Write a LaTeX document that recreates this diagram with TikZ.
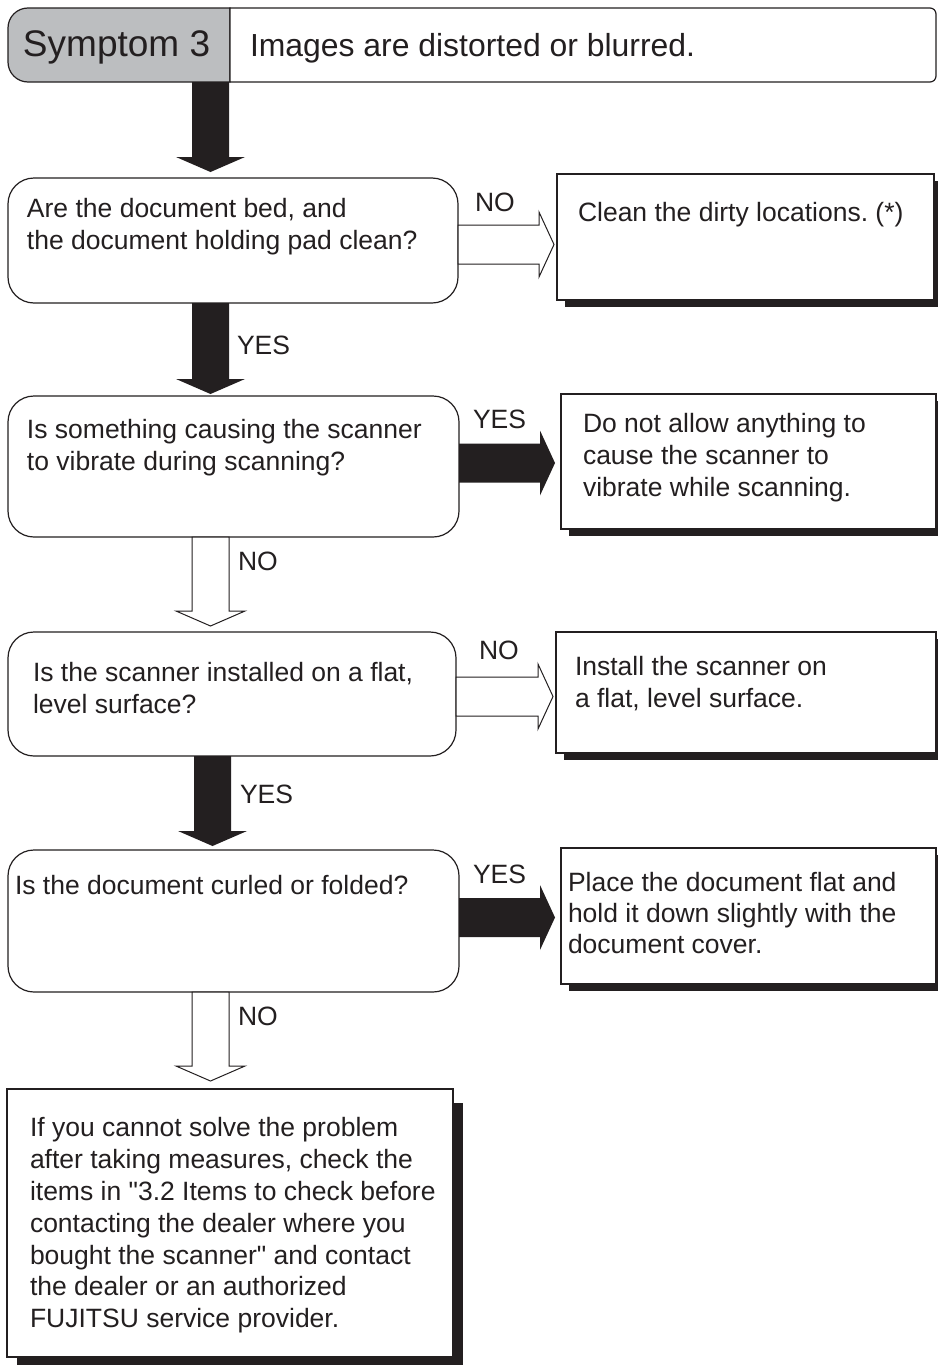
\documentclass[tikz,border=0pt]{standalone}
\usepackage{fontspec}
\setmainfont{Liberation Sans}[Ligatures=TeXOff]
\usetikzlibrary{calc,shadows,backgrounds}
\definecolor{ink}{HTML}{231F20}
\definecolor{hgray}{HTML}{BCBEC0}
\frenchspacing
\tikzset{
  boxframe/.style={draw=ink, line width=1.2pt, fill=white, inner sep=0pt, outer sep=0pt},
  qbox/.style={boxframe, rounded corners=26pt},
  abox/.style={boxframe, drop shadow={opacity=1, shadow xshift=8pt, shadow yshift=-7pt, fill=ink}},
  fbox/.style={boxframe, drop shadow={opacity=1, shadow xshift=10pt, shadow yshift=-14pt, fill=ink}},
  hdrbox/.style={draw=none, inner sep=0pt, outer sep=0pt, minimum height=74pt},
  hdrline/.style={draw=ink, line width=1.2pt},
  txt/.style={inner sep=0pt, outer sep=0pt, align=left, anchor=north west, text=ink, font=\fontsize{26.5}{32}\selectfont},
  lbl/.style={inner sep=0pt, outer sep=0pt, anchor=base west, text=ink, font=\fontsize{26.5}{32}\selectfont},
  blackarrow/.style={fill=ink},
  whitearrow/.style={draw=ink, line width=1pt, fill=white, line join=miter},
}
\newcommand\vArrow[3]{%
  \path[#1] ($(#2)+(-18.5pt,0)$) -- ($(#2)+(18.5pt,0)$) -- ($(#3)+(18.5pt,15pt)$) -- ($(#3)+(34.5pt,15pt)$) -- (#3) -- ($(#3)+(-34.5pt,15pt)$) -- ($(#3)+(-18.5pt,15pt)$) -- cycle;}
\newcommand\hArrow[3]{%
  \path[#1] ($(#2)+(0,19.5pt)$) -- ($(#3)+(-15pt,19.5pt)$) -- ($(#3)+(-15pt,32.5pt)$) -- (#3) -- ($(#3)+(-15pt,-32.5pt)$) -- ($(#3)+(-15pt,-19.5pt)$) -- ($(#2)+(0,-19.5pt)$) -- cycle;}
\begin{document}
\begin{tikzpicture}[x=1pt,y=-1pt]
\useasboundingbox (0,0) rectangle (937,1365);
\fill[white] (0,0) rectangle (937,1365);

% header
\node[hdrbox, minimum width=222pt] (hdrL) at (119,45) {};
\node[hdrbox, minimum width=706pt] (hdrR) at (583,45) {};
\draw[hdrline, fill=hgray] (hdrL.north east) -- ($(hdrL.north west)+(20pt,0)$) arc[start angle=90, end angle=180, radius=20pt] -- ($(hdrL.south west)+(0,20pt)$) arc[start angle=180, end angle=270, radius=20pt] -- (hdrL.south east) -- cycle;
\draw[hdrline, fill=white] (hdrR.north west) -- ($(hdrR.north east)+(-6pt,0)$) arc[start angle=90, end angle=0, radius=6pt] -- ($(hdrR.south east)+(0,6pt)$) arc[start angle=0, end angle=-90, radius=6pt] -- (hdrR.south west) -- cycle;
\node[lbl, font=\fontsize{37}{42}\selectfont] (sym) at (23,56.5) {Symptom 3};
\node[lbl, font=\fontsize{31.9}{36}\selectfont] (title) at (250,56) {Images are distorted or blurred.};

% question boxes
\node[qbox, minimum width=450pt, minimum height=125pt] (q1) at (233,240.5) {};
\node[qbox, minimum width=451pt, minimum height=141pt] (q2) at (233.5,466.5) {};
\node[qbox, minimum width=448pt, minimum height=124pt] (q3) at (232,694) {};
\node[qbox, minimum width=451pt, minimum height=142pt] (q4) at (233.5,921) {};

% answer boxes
\node[abox, minimum width=377pt, minimum height=126pt] (a1) at (745.5,237) {};
\node[abox, minimum width=375pt, minimum height=135pt] (a2) at (748.5,461.5) {};
\node[abox, minimum width=380pt, minimum height=121pt] (a3) at (746,692.5) {};
\node[abox, minimum width=375pt, minimum height=136pt] (a4) at (748.5,916) {};
\node[fbox, minimum width=446pt, minimum height=268pt] (fin) at (230,1223) {};

% texts
\node[txt] (q1t) at (27,194.6) {\strut Are the document bed, and\\the document holding pad clean?};
\node[txt] (q2t) at (27,415.6) {\strut Is something causing the scanner\\to vibrate during scanning?};
\node[txt] (q3t) at (33,658.6) {\strut Is the scanner installed on a flat,\\level surface?};
\node[txt] (q4t) at (15,871.6) {\strut Is the document curled or folded?};
\node[txt] (a1t) at (578,198.6) {\strut Clean the dirty locations. (*)};
\node[txt] (a2t) at (583,409.6) {\strut Do not allow anything to\\cause the scanner to\\vibrate while scanning.};
\node[txt] (a3t) at (575,652.6) {\strut Install the scanner on\\a flat, level surface.};
\node[txt, font=\fontsize{26.5}{31.2}\selectfont] (a4t) at (568,869.6) {\strut Place the document flat and\\hold it down slightly with the\\document cover.};
\node[txt, font=\fontsize{26.5}{31.8}\selectfont] (fint) at (30,1114.6) {\strut If you cannot solve the problem\\after taking measures, check the\\items in "3.2 Items to check before\\contacting the dealer where you\\bought the scanner" and contact\\the dealer or an authorized\\FUJITSU service provider.};

% vertical arrows
\coordinate (cx) at (210.5,0);
\coordinate (cx3) at (212.5,0);
\coordinate (t0) at ($(cx |- q1.north)+(0,6pt)$);
\coordinate (t1) at ($(cx |- q2.north)+(0,2pt)$);
\coordinate (t2) at ($(cx |- q3.north)+(0,6pt)$);
\coordinate (t3) at ($(cx3 |- q4.north)+(0,4pt)$);
\coordinate (t4) at ($(cx |- fin.north)+(0,8pt)$);
\vArrow{blackarrow}{cx |- hdrL.south}{t0}
\vArrow{blackarrow}{cx |- q1.south}{t1}
\vArrow{whitearrow}{cx |- q2.south}{t2}
\vArrow{blackarrow}{cx3 |- q3.south}{t3}
\vArrow{whitearrow}{cx |- q4.south}{t4}

% horizontal arrows
\coordinate (h1) at (0,244.5);
\coordinate (h2) at (0,463);
\coordinate (h3) at (0,696.5);
\coordinate (h4) at (0,917.5);
\coordinate (h1t) at ($(a1.west |- h1)+(-3pt,0)$);
\coordinate (h2t) at ($(a2.west |- h2)+(-6pt,0)$);
\coordinate (h3t) at ($(a3.west |- h3)+(-3pt,0)$);
\coordinate (h4t) at ($(a4.west |- h4)+(-6pt,0)$);
\hArrow{whitearrow}{q1.east |- h1}{h1t}
\hArrow{blackarrow}{q2.east |- h2}{h2t}
\hArrow{whitearrow}{q3.east |- h3}{h3t}
\hArrow{blackarrow}{q4.east |- h4}{h4t}

% labels
\node[lbl] (l1) at (475,211) {NO};
\node[lbl] (l2) at (473,428) {YES};
\node[lbl] (l3) at (479,659) {NO};
\node[lbl] (l4) at (473,883) {YES};
\node[lbl] (l5) at (237,354) {YES};
\node[lbl] (l6) at (238,570) {NO};
\node[lbl] (l7) at (240,803) {YES};
\node[lbl] (l8) at (238,1025) {NO};
\end{tikzpicture}
\end{document}
